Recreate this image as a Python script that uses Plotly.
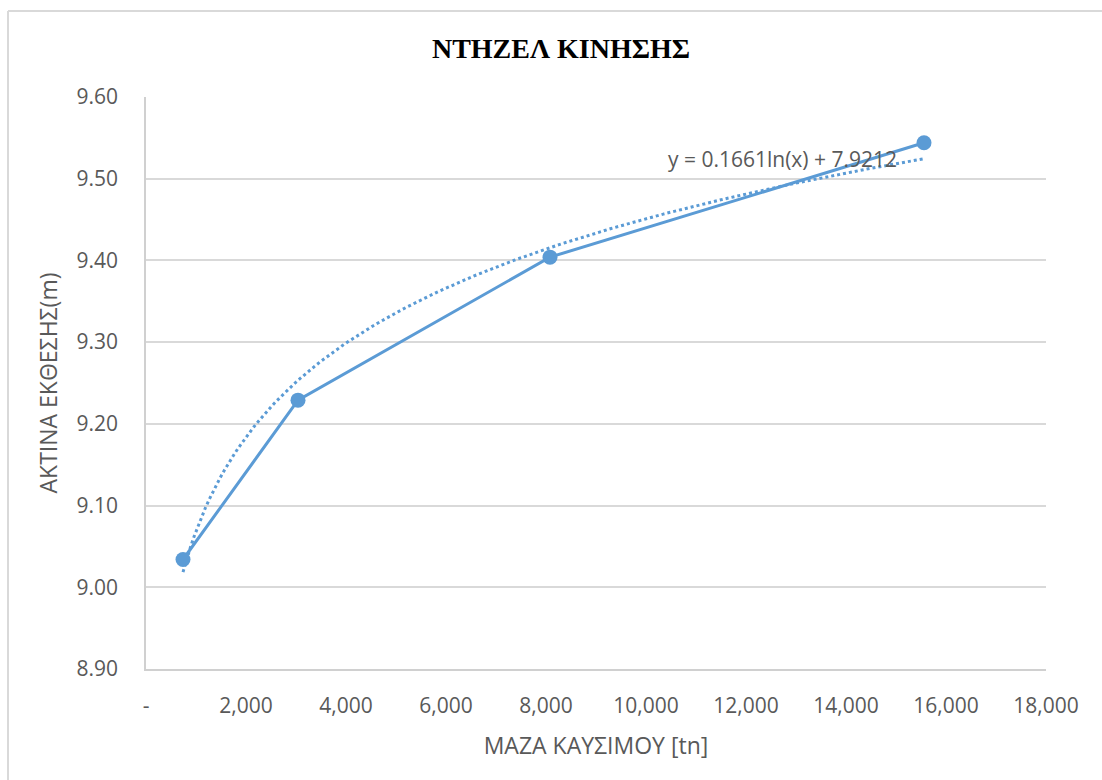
import numpy as np
import plotly.graph_objects as go

# Fuel mass [tn] and exposure radius [m]
fuel_mass = [740, 3040, 8080, 15560]
exposure_radius = [9.034, 9.229, 9.404, 9.544]

# Logarithmic trendline coefficients: y = a*ln(x) + b
trend_a = 0.1661
trend_b = 7.9212

x_ticks = [0, 2000, 4000, 6000, 8000, 10000, 12000, 14000, 16000, 18000]
x_ticktext = ["-", "2,000", "4,000", "6,000", "8,000", "10,000", "12,000", "14,000", "16,000", "18,000"]
y_ticks = [8.90, 9.00, 9.10, 9.20, 9.30, 9.40, 9.50, 9.60]

BLUE = "#5B9BD5"
TEXT = "#595959"
FONT = "Open Sans"

trend_x = np.linspace(min(fuel_mass), max(fuel_mass), 200)
trend_y = trend_a * np.log(trend_x) + trend_b

fig = go.Figure()
fig.add_trace(go.Scatter(
    x=trend_x, y=trend_y, mode="lines",
    line=dict(color=BLUE, width=3, dash="dot"),
    hoverinfo="skip", showlegend=False,
))
fig.add_trace(go.Scatter(
    x=fuel_mass, y=exposure_radius, mode="lines+markers",
    line=dict(color=BLUE, width=3),
    marker=dict(color=BLUE, size=15),
    showlegend=False,
))

fig.update_layout(
    width=1102, height=780,
    margin=dict(l=146, r=56, t=97, b=111),
    paper_bgcolor="white", plot_bgcolor="white",
    title=dict(
        text="<b>ΝΤΗΖΕΛ ΚΙΝΗΣΗΣ</b>",
        font=dict(family="Liberation Serif", size=28, color="black"),
        x=561 / 1102, xanchor="center", xref="container",
        y=1 - 48 / 780, yanchor="middle",
    ),
    xaxis=dict(
        range=[0, 18000], tickvals=x_ticks, ticktext=x_ticktext,
        showgrid=False, zeroline=False,
        showline=True, linecolor="#D0D0D0", linewidth=1.5,
        ticks="", ticklabelstandoff=17,
        tickfont=dict(family=FONT, size=21, color=TEXT),
        title=dict(text="ΜΑΖΑ ΚΑΥΣΙΜΟΥ [tn]", standoff=20,
                   font=dict(family=FONT, size=23, color=TEXT)),
    ),
    yaxis=dict(
        range=[8.90, 9.60], tickvals=y_ticks, tickformat=".2f",
        showgrid=True, gridcolor="#D9D9D9", gridwidth=1.5,
        zeroline=False,
        showline=True, linecolor="#D0D0D0", linewidth=1.5,
        ticks="", ticklabelstandoff=22,
        tickfont=dict(family=FONT, size=21, color=TEXT),
        title=dict(text="ΑΚΤΙΝΑ ΕΚΘΕΣΗΣ(m)", standoff=12,
                   font=dict(family=FONT, size=23, color=TEXT)),
    ),
    annotations=[dict(
        text="y = 0.1661ln(x) + 7.9212",
        x=15060, y=9.5245, xref="x", yref="y",
        xanchor="right", yanchor="middle", showarrow=False,
        font=dict(family=FONT, size=21, color=TEXT),
    )],
    shapes=[
        # outer chart frame (left and top edges)
        dict(type="line", xref="paper", yref="paper",
             x0=(8 - 146) / 900, x1=(1102 - 146) / 900,
             y0=1 + (97 - 11) / 572, y1=1 + (97 - 11) / 572,
             line=dict(color="#D9D9D9", width=2)),
        dict(type="line", xref="paper", yref="paper",
             x0=(8 - 146) / 900, x1=(8 - 146) / 900,
             y0=1 + (97 - 11) / 572, y1=-111 / 572,
             line=dict(color="#D9D9D9", width=2)),
    ],
)

fig.write_html("out.html")
